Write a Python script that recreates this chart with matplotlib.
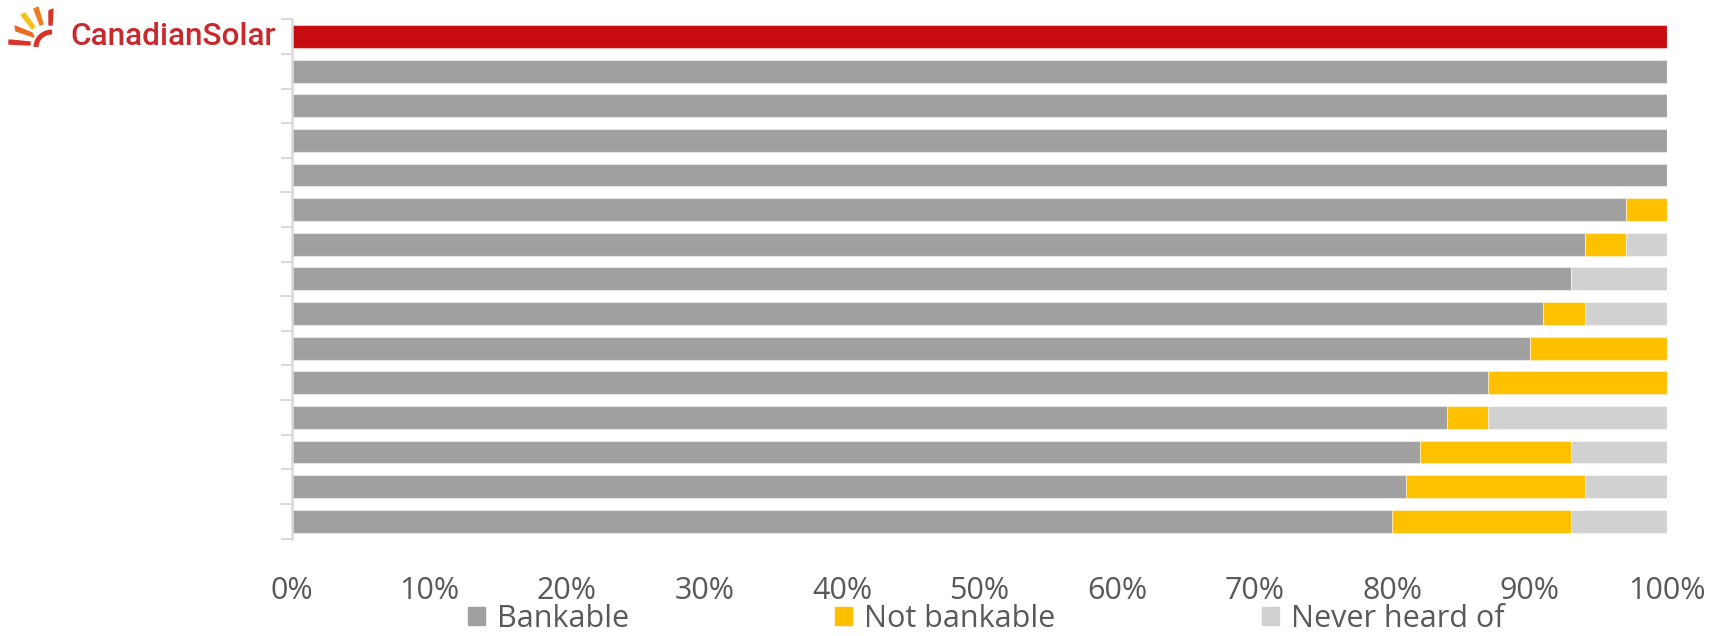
import matplotlib
matplotlib.use("Agg")
import matplotlib.pyplot as plt
from matplotlib.patches import Polygon, Arc
import matplotlib.patches as mpatches
import numpy as np

# ---- data ----
categories = ["CanadianSolar"] + [""] * 14
bankable = [100, 100, 100, 100, 100, 97, 94, 93, 91, 90, 87, 84, 82, 81, 80]
not_bankable = [0, 0, 0, 0, 0, 3, 3, 0, 3, 10, 13, 3, 11, 13, 13]
never_heard = [0, 0, 0, 0, 0, 0, 3, 7, 6, 0, 0, 13, 7, 6, 7]
series_names = ["Bankable", "Not bankable", "Never heard of"]
xticks = [0, 10, 20, 30, 40, 50, 60, 70, 80, 90, 100]
xtick_labels = [f"{v}%" for v in xticks]
highlight_index = 0

# ---- style ----
C_GRAY = "#a0a0a0"
C_YELLOW = "#ffc000"
C_LIGHT = "#d1d1d1"
C_RED = "#c80c10"
C_TEXT = "#595959"
C_AXIS = "#d9d9d9"

plt.rcParams["font.family"] = ["Open Sans", "DejaVu Sans"]

W, H = 1711, 636
fig = plt.figure(figsize=(W / 100, H / 100), dpi=100)
ax = fig.add_axes([292 / W, 1 - 538.5 / H, (1667 - 292) / W, (538.5 - 19.3) / H])

y = np.arange(len(categories))
b = np.array(bankable, float)
nb = np.array(not_bankable, float)
nh = np.array(never_heard, float)
bank_colors = [C_RED if i == highlight_index else C_GRAY for i in range(len(y))]
edge = (1, 1, 1, 0.45)
h = 0.66
ax.barh(y, b, height=h, color=bank_colors, edgecolor=edge, linewidth=0.8)
ax.barh(y, nb, left=b, height=h, color=C_YELLOW, edgecolor=edge, linewidth=0.8)
ax.barh(y, nh, left=b + nb, height=h, color=C_LIGHT, edgecolor=edge, linewidth=0.8)

ax.set_xlim(0, 100)
ax.set_ylim(len(y) - 0.5, -0.5)
ax.set_xticks(xticks)
ax.set_xticklabels(xtick_labels)
ax.tick_params(axis="x", length=0, pad=27, labelsize=22, labelcolor=C_TEXT)
ax.set_yticks(y)
ax.set_yticklabels([""] * len(y))
ax.tick_params(axis="y", which="major", length=0)
ax.set_yticks(np.arange(len(y) + 1) - 0.5, minor=True)
ax.tick_params(axis="y", which="minor", length=8, width=1.5, color=C_AXIS)
for s in ["top", "right", "bottom"]:
    ax.spines[s].set_visible(False)
ax.spines["left"].set_color(C_AXIS)
ax.spines["left"].set_linewidth(1.8)

# legend
handles = [mpatches.Patch(color=C_GRAY), mpatches.Patch(color=C_YELLOW), mpatches.Patch(color=C_LIGHT)]
fig.legend(handles, series_names, loc="center", bbox_to_anchor=(986 / W, 1 - 619 / H),
           ncol=3, frameon=False, fontsize=22, labelcolor=C_TEXT,
           handlelength=0.55, handleheight=0.55, handletextpad=0.4, columnspacing=6.75,
           borderpad=0.1)

# logo label for highlighted category
fig.text(70 / W, 1 - 45 / H, categories[highlight_index], color="#c9282d",
         fontsize=22.7, family=["Roboto", "DejaVu Sans"], fontweight="medium",
         ha="left", va="baseline")

def px(pts):
    return [(x / W, 1 - yy / H) for x, yy in pts]

rays = [
    ([(9, 40), (30, 42), (30, 45), (9, 44)], "#d9342b"),
    ([(15, 26), (32, 33), (34, 37), (16, 31)], "#ec6a23"),
    ([(21, 15), (25, 13), (35, 27), (32, 29)], "#f6c21b"),
    ([(34, 9), (38, 7), (43, 24), (40, 25)], "#ee7d22"),
    ([(49, 11), (53, 9), (52, 25), (49, 25)], "#d9342b"),
]
for pts, col in rays:
    fig.patches.append(Polygon(px(pts), closed=True, color=col, transform=fig.transFigure))
arc = Arc((52 / W, 1 - 47 / H), 32 / W, 30 / H, theta1=90, theta2=180,
          color="#d9342b", linewidth=3.6, transform=fig.transFigure)
fig.patches.append(arc)

fig.savefig("out.png", dpi=100)
